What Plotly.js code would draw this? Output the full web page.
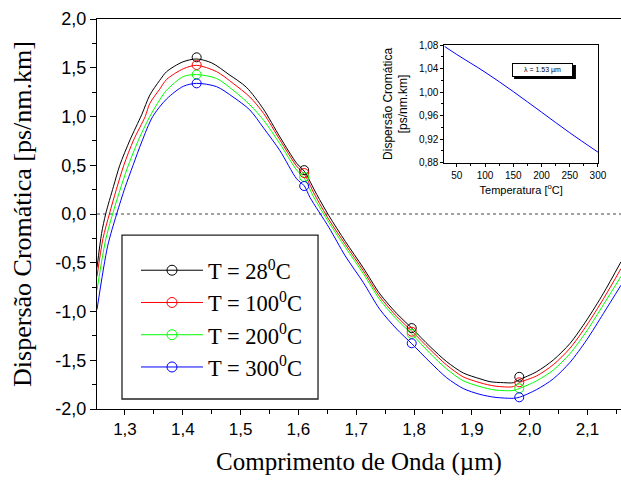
<!DOCTYPE html>
<html><head><meta charset="utf-8">
<script src="https://cdn.plot.ly/plotly-3.0.1.min.js"></script>
<style>html,body{margin:0;padding:0;background:#fff}</style>
</head><body><div id="chart" style="width:621px;height:480px"></div>
<script>
// ---- main chart data ----
const seriesNames = ['T = 28<sup>0</sup>C', 'T = 100<sup>0</sup>C', 'T = 200<sup>0</sup>C', 'T = 300<sup>0</sup>C'];
const seriesColors = ['#000000', '#ff0000', '#00ff00', '#0000ff'];

const blackX = [1.2516,1.2595,1.2666,1.28,1.291,1.3087,1.329,1.343,1.36,1.372,1.40,1.424,1.45,1.48,1.51,1.539,1.568,1.597,1.61,1.6317,1.653,1.681,1.712,1.741,1.770,1.796,1.8277,1.8566,1.885,1.914,1.9315,1.955,1.972,1.982,2.0123,2.041,2.070,2.0988,2.1276,2.158];
const blackY = [-0.55,-0.20,0.00,0.28,0.50,0.76,1.02,1.22,1.37,1.46,1.56,1.59,1.55,1.43,1.30,1.08,0.79,0.52,0.44,0.20,-0.02,-0.28,-0.55,-0.82,-1.02,-1.17,-1.36,-1.515,-1.63,-1.69,-1.72,-1.73,-1.73,-1.70,-1.617,-1.497,-1.326,-1.087,-0.813,-0.49];

const redX = [1.2516,1.262,1.273,1.285,1.298,1.315,1.335,1.343,1.36,1.372,1.401,1.424,1.4585,1.487,1.516,1.54,1.568,1.597,1.61,1.628,1.653,1.681,1.712,1.741,1.770,1.796,1.8277,1.8566,1.885,1.914,1.94,1.972,1.982,2.0123,2.041,2.070,2.0988,2.1276,2.158];
const redY = [-0.64,-0.25,0.00,0.25,0.50,0.76,1.00,1.135,1.28,1.38,1.49,1.525,1.46,1.34,1.20,1.03,0.76,0.49,0.41,0.20,-0.06,-0.31,-0.58,-0.85,-1.05,-1.20,-1.39,-1.55,-1.67,-1.73,-1.765,-1.77,-1.73,-1.66,-1.545,-1.375,-1.14,-0.87,-0.56];

const greenX = [1.2516,1.266,1.2786,1.29,1.304,1.322,1.342,1.36,1.372,1.401,1.424,1.4585,1.487,1.516,1.54,1.568,1.597,1.61,1.625,1.653,1.681,1.712,1.741,1.770,1.796,1.8277,1.8566,1.885,1.914,1.94,1.972,1.982,2.0123,2.041,2.070,2.0988,2.1276,2.158];
const greenY = [-0.78,-0.28,0.00,0.22,0.47,0.74,0.99,1.17,1.27,1.41,1.43,1.39,1.27,1.12,0.96,0.72,0.45,0.37,0.19,-0.09,-0.34,-0.61,-0.88,-1.08,-1.23,-1.43,-1.59,-1.71,-1.77,-1.805,-1.81,-1.79,-1.71,-1.60,-1.43,-1.20,-0.93,-0.64];

const blueX = [1.2516,1.27,1.2856,1.30,1.314,1.329,1.348,1.372,1.401,1.424,1.4585,1.487,1.516,1.54,1.568,1.597,1.61,1.62,1.653,1.681,1.712,1.741,1.770,1.796,1.8277,1.8566,1.885,1.914,1.94,1.972,1.982,2.0123,2.041,2.070,2.0988,2.1276,2.158];
const blueY = [-0.98,-0.33,0.00,0.27,0.50,0.74,1.00,1.18,1.31,1.34,1.306,1.20,1.067,0.88,0.65,0.36,0.29,0.17,-0.14,-0.43,-0.70,-0.98,-1.18,-1.33,-1.52,-1.68,-1.79,-1.85,-1.88,-1.89,-1.88,-1.80,-1.69,-1.52,-1.29,-1.02,-0.73];

const markerX = [1.424, 1.61, 1.796, 1.982];
const blackMarkY = [1.607, 0.45, -1.17, -1.67];
const redMarkY = [1.528, 0.42, -1.207, -1.726];
const greenMarkY = [1.43, 0.38, -1.23, -1.788];
const blueMarkY = [1.34, 0.287, -1.326, -1.88];

const xTickVals = [1.3,1.4,1.5,1.6,1.7,1.8,1.9,2.0,2.1];
const xTickText = ['1,3','1,4','1,5','1,6','1,7','1,8','1,9','2,0','2,1'];
const yTickVals = [-2,-1.5,-1,-0.5,0,0.5,1,1.5,2];
const yTickText = ['-2,0','-1,5','-1,0','-0,5','0,0','0,5','1,0','1,5','2,0'];

// ---- inset data ----
const insetTemp = [28, 50, 100, 150, 200, 250, 300];
const insetDisp = [1.078, 1.064, 1.034, 1.001, 0.966, 0.931, 0.898];
const insetXTickVals = [50,100,150,200,250,300];
const insetXTickText = ['50','100','150','200','250','300'];
const insetYTickVals = [0.88,0.92,0.96,1.00,1.04,1.08];
const insetYTickText = ['0,88','0,92','0,96','1,00','1,04','1,08'];

const lineXs = [blackX, redX, greenX, blueX];
const lineYs = [blackY, redY, greenY, blueY];
const markYs = [blackMarkY, redMarkY, greenMarkY, blueMarkY];

const traces = [];
for (let i = 0; i < 4; i++) {
  traces.push({x: lineXs[i], y: lineYs[i], mode: 'lines', type: 'scatter',
    line: {color: seriesColors[i], width: 1, shape: 'spline', smoothing: 0.8},
    showlegend: false, hoverinfo: 'skip'});
}
for (let i = 0; i < 4; i++) {
  traces.push({x: markerX, y: markYs[i], mode: 'markers', type: 'scatter',
    marker: {symbol: 'circle-open', size: 9, color: seriesColors[i], line: {width: 1, color: seriesColors[i]}},
    showlegend: false, hoverinfo: 'skip'});
}
for (let i = 0; i < 4; i++) {
  traces.push({x: [null], y: [null], mode: 'lines+markers', type: 'scatter', name: seriesNames[i],
    line: {color: seriesColors[i], width: 1},
    marker: {symbol: 'circle-open', size: 10, color: seriesColors[i], line: {width: 1, color: seriesColors[i]}}});
}
traces.push({x: insetTemp, y: insetDisp, xaxis: 'x2', yaxis: 'y2', mode: 'lines', type: 'scatter',
  line: {color: '#0000ff', width: 1, shape: 'spline', smoothing: 1}, showlegend: false, hoverinfo: 'skip'});

const serif = 'Liberation Serif, Times New Roman, serif';
const sans = 'Liberation Sans, Arial, sans-serif';

const layout = {
  width: 621, height: 480,
  margin: {l: 97, r: 0, t: 19, b: 71, pad: 0},
  paper_bgcolor: '#ffffff', plot_bgcolor: '#ffffff',
  showlegend: true,
  xaxis: {
    range: [1.2516, 2.158], domain: [0, 1], showgrid: false, zeroline: false,
    showline: true, linecolor: '#000', linewidth: 1, mirror: true,
    tickmode: 'array', tickvals: xTickVals, ticktext: xTickText,
    ticks: 'outside', ticklen: 5, tickcolor: '#000', tickwidth: 1,
    minor: {dtick: 0.05, tick0: 1.25, ticks: 'outside', ticklen: 4, tickcolor: '#000', showgrid: false},
    tickfont: {family: sans, size: 17, color: '#000'},
    title: {text: 'Comprimento de Onda (µm)', font: {family: serif, size: 25, color: '#000'}, standoff: 14}
  },
  yaxis: {
    range: [-2, 2], domain: [0, 1], showgrid: false, zeroline: false,
    showline: true, linecolor: '#000', linewidth: 1, mirror: false,
    tickmode: 'array', tickvals: yTickVals, ticktext: yTickText,
    ticks: 'outside', ticklen: 6, tickcolor: '#000', tickwidth: 1,
    minor: {dtick: 0.25, tick0: 0, ticks: 'outside', ticklen: 4, tickcolor: '#000', showgrid: false},
    tickfont: {family: sans, size: 18, color: '#000'},
    title: {text: 'Dispersão Cromática [ps/nm.km]', font: {family: serif, size: 26, color: '#000'}, standoff: 16}
  },
  xaxis2: {
    anchor: 'y2', domain: [0.663, 0.956], range: [28, 300], showgrid: false, zeroline: false,
    showline: true, linecolor: '#000', linewidth: 1, mirror: true,
    tickmode: 'array', tickvals: insetXTickVals, ticktext: insetXTickText,
    ticks: 'outside', ticklen: 3, tickcolor: '#000',
    minor: {dtick: 25, tick0: 25, ticks: 'outside', ticklen: 2, tickcolor: '#000', showgrid: false},
    tickfont: {family: sans, size: 10, color: '#000'},
    title: {text: 'Temperatura [<sup>o</sup>C]', font: {family: sans, size: 11, color: '#000'}, standoff: 6}
  },
  yaxis2: {
    anchor: 'x2', domain: [0.6315, 0.933], range: [0.88, 1.08], showgrid: false, zeroline: false,
    showline: true, linecolor: '#000', linewidth: 1, mirror: true,
    tickmode: 'array', tickvals: insetYTickVals, ticktext: insetYTickText,
    ticks: 'outside', ticklen: 3, tickcolor: '#000',
    minor: {dtick: 0.02, tick0: 0.88, ticks: 'outside', ticklen: 2, tickcolor: '#000', showgrid: false},
    tickfont: {family: sans, size: 10, color: '#000'},
    title: {text: 'Dispersão Cromática<br>[ps/nm.km]', font: {family: sans, size: 12, color: '#000'}, standoff: 8}
  },
  legend: {
    x: 0.0744, y: 0.410, xanchor: 'left', yanchor: 'top',
    bgcolor: 'rgba(0,0,0,0)', borderwidth: 0,
    font: {family: serif, size: 22.5, color: '#000'},
    itemwidth: 62
  },
  shapes: [
    {type: 'line', xref: 'paper', yref: 'y', x0: 0, x1: 1, y0: 0, y1: 0,
     line: {color: '#444', width: 1, dash: 'dot'}, layer: 'below'},
    {type: 'rect', xref: 'paper', yref: 'paper', x0: 0.0477, x1: 0.4218, y0: 0.0256, y1: 0.446,
     fillcolor: '#ffffff', line: {color: '#222', width: 1.3}, layer: 'above'},
    {type: 'rect', xref: 'paper', yref: 'paper', x0: 0.796, x1: 0.914, y0: 0.846, y1: 0.882,
     fillcolor: '#000', line: {width: 0}}
  ],
  annotations: [
    {xref: 'paper', yref: 'paper', x: 0.792, y: 0.887, xanchor: 'left', yanchor: 'top',
     text: 'λ = 1.53 µm', showarrow: false, font: {family: sans, size: 7, color: '#000'},
     bgcolor: '#ffffff', bordercolor: '#000', borderwidth: 1, borderpad: 1, width: 57, height: 10}
  ]
};

Plotly.newPlot('chart', traces, layout, {displayModeBar: false, staticPlot: true});
</script>
</body></html>
